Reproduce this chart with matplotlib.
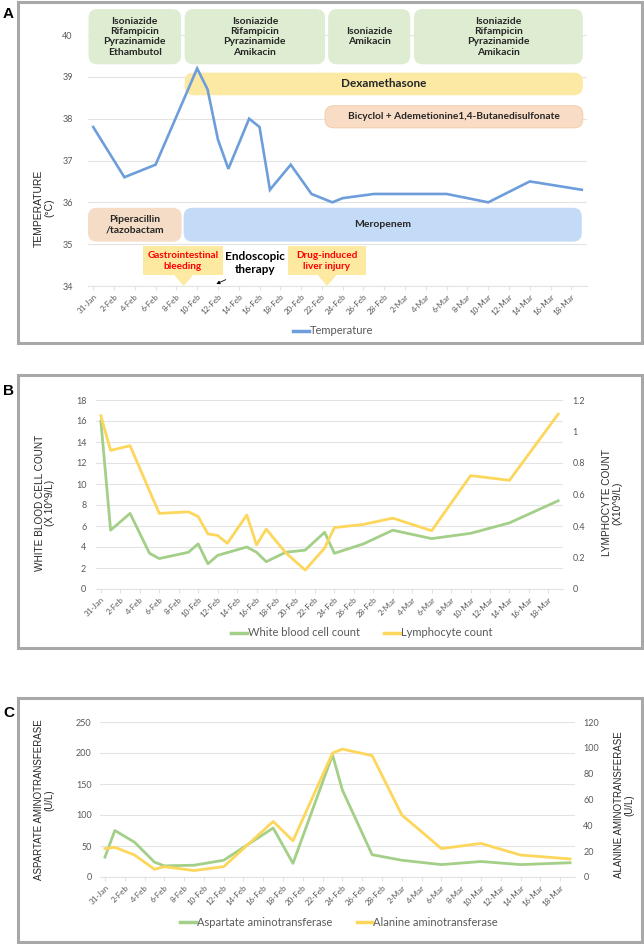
import matplotlib
matplotlib.use("Agg")
import matplotlib.pyplot as plt
import numpy as np
import pandas as pd
from matplotlib.patches import FancyBboxPatch, Rectangle, Polygon
from matplotlib.lines import Line2D

plt.rcParams["font.family"] = ["Lato", "DejaVu Sans"]

YEAR = 2023
START = "31-Jan"

# Panel A: body temperature
temp_dates = ["31-Jan", "3-Feb", "6-Feb", "10-Feb", "11-Feb", "12-Feb", "13-Feb",
              "15-Feb", "16-Feb", "17-Feb", "19-Feb", "21-Feb", "23-Feb", "24-Feb",
              "27-Feb", "6-Mar", "10-Mar", "14-Mar", "19-Mar"]
temperature = [37.8, 36.6, 36.9, 39.2, 38.7, 37.5, 36.8, 38.0, 37.8, 36.3, 36.9,
               36.2, 36.0, 36.1, 36.2, 36.2, 36.0, 36.5, 36.3]

# Panel B: white blood cells / lymphocytes
wbc_dates = ["31-Jan", "1-Feb", "3-Feb", "5-Feb", "6-Feb", "9-Feb", "10-Feb", "11-Feb",
             "12-Feb", "15-Feb", "16-Feb", "17-Feb", "19-Feb", "21-Feb", "23-Feb",
             "24-Feb", "27-Feb", "2-Mar", "6-Mar", "10-Mar", "14-Mar", "19-Mar"]
wbc = [16.0, 5.6, 7.2, 3.4, 2.9, 3.5, 4.3, 2.4, 3.2, 4.0, 3.5, 2.6, 3.5, 3.7, 5.4,
       3.4, 4.3, 5.6, 4.8, 5.3, 6.3, 8.4]
lym_dates = ["31-Jan", "1-Feb", "3-Feb", "6-Feb", "9-Feb", "10-Feb", "11-Feb", "12-Feb",
             "13-Feb", "15-Feb", "16-Feb", "17-Feb", "19-Feb", "21-Feb", "23-Feb",
             "24-Feb", "27-Feb", "2-Mar", "6-Mar", "10-Mar", "14-Mar", "19-Mar"]
lymph = [1.10, 0.88, 0.91, 0.48, 0.49, 0.46, 0.35, 0.34, 0.29, 0.47, 0.28, 0.38, 0.23,
         0.12, 0.26, 0.39, 0.41, 0.45, 0.37, 0.72, 0.69, 1.11]

# Panel C: liver enzymes
liver_dates = ["31-Jan", "1-Feb", "3-Feb", "5-Feb", "6-Feb", "9-Feb", "12-Feb", "17-Feb",
               "19-Feb", "23-Feb", "24-Feb", "27-Feb", "2-Mar", "6-Mar", "10-Mar",
               "14-Mar", "19-Mar"]
ast = [32, 75, 56, 24, 18, 19, 27, 79, 22, 197, 140, 36, 27, 20, 25, 20, 23]
alt = [22, 23, 17, 6, 8, 5, 8, 43, 28, 96, 99, 94, 48, 22, 26, 17, 14]

# Anti-TB regimens shown as boxes across the top of panel A
tb_regimens = ["Isoniazide\nRifampicin\nPyrazinamide\nEthambutol",
               "Isoniazide\nRifampicin\nPyrazinamide\nAmikacin",
               "Isoniazide\nAmikacin",
               "Isoniazide\nRifampicin\nPyrazinamide\nAmikacin"]

BLUE = "#6d9edb"
GREEN = "#a4cf88"
YELLOW = "#fdd65c"
TICK_C = "#595959"
GRID_C = "#e3e3e3"
FRAME_C = "#a8a8a8"
TITLE_FONT = ["Liberation Sans", "DejaVu Sans"]

W, H = 644, 944
base = pd.to_datetime(f"{START}-{YEAR}", format="%d-%b-%Y")


def to_day(labels):
    return np.array([(pd.to_datetime(f"{s}-{YEAR}", format="%d-%b-%Y") - base).days
                     for s in labels], dtype=float)


tick_days = np.arange(0, 47, 2)
tick_labels = [f"{d.day}-{d.strftime('%b')}" for d in base + pd.to_timedelta(tick_days, unit="D")]


def px_axes(fig, x0, x1, ytop, ybot):
    return fig.add_axes([x0 / W, 1 - ybot / H, (x1 - x0) / W, (ybot - ytop) / H])


def style(ax, ypad):
    ax.set_xlim(-0.5, 47.5)
    ax.set_xticks(tick_days)
    ax.set_xticklabels(tick_labels, rotation=45, ha="right", rotation_mode="anchor",
                       fontsize=5.8, color=TICK_C)
    for s in ["top", "right", "left"]:
        ax.spines[s].set_visible(False)
    ax.spines["bottom"].set_color(GRID_C)
    ax.spines["bottom"].set_linewidth(0.8)
    ax.tick_params(axis="x", length=3, color=GRID_C, pad=2)
    ax.tick_params(axis="y", length=0, labelsize=6.5, labelcolor=TICK_C, pad=ypad)
    ax.yaxis.grid(True, color=GRID_C, lw=0.8)
    ax.set_axisbelow(True)


def frame(fig, x0, y0, x1, y1):
    fig.add_artist(Rectangle((x0 / W, 1 - y1 / H), (x1 - x0) / W, (y1 - y0) / H,
                             transform=fig.transFigure, fill=False, ec=FRAME_C, lw=2.2))


def ytitle(fig, x, y, text, size):
    fig.text(x / W, 1 - y / H, text, rotation=90, ha="center", va="center",
             multialignment="center", fontsize=size, color="#262626",
             family=TITLE_FONT, linespacing=1.1)


def panel_label(fig, y, text):
    fig.text(3 / W, 1 - y / H, text, fontsize=11, fontweight="bold",
             family=TITLE_FONT, va="center")


def legend(fig, ax, handles, x, y):
    ax.legend(handles=handles, loc="center", bbox_to_anchor=(x / W, 1 - y / H),
              bbox_transform=fig.transFigure, frameon=False, ncol=len(handles),
              fontsize=8, labelcolor=TICK_C, handlelength=1.4, handletextpad=0.1,
              columnspacing=2.2)


fig = plt.figure(figsize=(W / 100, H / 100), dpi=100)

# ---------------- Panel A ----------------
axA = px_axes(fig, 88, 587, 35, 286)
style(axA, 11)
axA.set_ylim(34, 40)
axA.set_yticks(range(34, 41))
axA.plot(to_day(temp_dates), temperature, color=BLUE, lw=1.9, zorder=10,
         solid_joinstyle="miter")

# rounding aspect so corners look round in pixels
asp = (499 / 48.0) / (251 / 6.0)


def rbox(x0, x1, y0, y1, color, text, size, r=0.85, ec="none"):
    p = FancyBboxPatch((x0, y0), x1 - x0, y1 - y0,
                       boxstyle=f"round,pad=0,rounding_size={r}", mutation_aspect=asp,
                       fc=color, ec=ec, lw=0.6, clip_on=False, zorder=5)
    axA.add_patch(p)
    axA.text((x0 + x1) / 2, (y0 + y1) / 2, text, ha="center", va="center",
             fontsize=size, fontweight="bold", color="#262626", linespacing=1.2,
             clip_on=False, zorder=6)


spans = [(-0.45, 8.45), (8.8, 22.3), (22.6, 30.5), (30.85, 47.1)]
for txt, (x0, x1) in zip(tb_regimens, spans):
    rbox(x0, x1, 39.3, 40.62, "#deedd2", txt, 7.5)

rbox(8.8, 47.1, 38.56, 39.1, "#fce9a4", "Dexamethasone", 8.5)
rbox(22.3, 47.1, 37.78, 38.31, "#f9dcc6", "Bicyclol + Ademetionine1,4-Butanedisulfonate", 7.3,
     ec="#f3c9a5")
rbox(-0.5, 8.5, 35.06, 35.87, "#f4dcc6", "Piperacillin\n/tazobactam", 7.5)
rbox(8.7, 47.0, 35.06, 35.87, "#c4dbf7", "Meropenem", 7.5)


def callout(x0, x1, xa, text):
    axA.add_patch(Rectangle((x0, 34.26), x1 - x0, 0.69, fc="#fde9a0", ec="none",
                            clip_on=False, zorder=5))
    axA.add_patch(Polygon([[xa - 0.9, 34.26], [xa + 0.9, 34.26], [xa, 34.0]],
                          closed=True, fc="#fde9a0", ec="none", clip_on=False, zorder=5))
    axA.text((x0 + x1) / 2, 34.6, text, ha="center", va="center", fontsize=7.2,
             fontweight="bold", color="#ff0000", linespacing=1.3, zorder=6)


callout(4.75, 12.5, 8.7, "Gastrointestinal\nbleeding")
callout(18.7, 26.2, 22.5, "Drug-induced\nliver injury")
axA.text(15.6, 34.55, "Endoscopic\ntherapy", ha="center", va="center", fontsize=8.5,
         fontweight="bold", color="black", linespacing=1.25, zorder=6)
axA.annotate("", xy=(11.6, 34.02), xytext=(13.0, 34.18),
             arrowprops=dict(arrowstyle="-|>", color="black", lw=0.6, mutation_scale=5),
             zorder=6)

frame(fig, 18, 2, 642, 343)
panel_label(fig, 14, "A")
ytitle(fig, 44, 208, "TEMPERATURE\n(°C)", 7.5)
legend(fig, axA, [Line2D([], [], color=BLUE, lw=2.5, label="Temperature")], 333, 331)

# ---------------- Panel B ----------------
axB = px_axes(fig, 96, 563, 400, 589)
style(axB, 7)
axB.set_ylim(0, 18)
axB.set_yticks(range(0, 19, 2))
axB2 = axB.twinx()
axB2.set_ylim(0, 1.2)
axB2.set_yticks([0, 0.2, 0.4, 0.6, 0.8, 1.0, 1.2])
axB2.set_yticklabels(["0", "0.2", "0.4", "0.6", "0.8", "1", "1.2"])
for s in axB2.spines.values():
    s.set_visible(False)
axB2.tick_params(axis="y", length=0, labelsize=6.5, labelcolor=TICK_C, pad=7)
axB.plot(to_day(wbc_dates), wbc, color=GREEN, lw=2.0, zorder=3)
axB2.plot(to_day(lym_dates), lymph, color=YELLOW, lw=2.0, zorder=4)

frame(fig, 18, 375, 642, 648)
panel_label(fig, 391, "B")
ytitle(fig, 45, 503, "WHITE BLOOD CELL COUNT\n(X 10^9/L)", 7.2)
ytitle(fig, 612, 503, "LYMPHOCYTE COUNT\n(X10^9/L)", 7.2)
legend(fig, axB2, [Line2D([], [], color=GREEN, lw=2.5, label="White blood cell count"),
                   Line2D([], [], color=YELLOW, lw=2.5, label="Lymphocyte count")], 362, 633)

# ---------------- Panel C ----------------
axC = px_axes(fig, 100, 575, 722, 877)
style(axC, 6)
axC.set_ylim(0, 250)
axC.set_yticks(range(0, 251, 50))
axC2 = axC.twinx()
axC2.set_ylim(0, 120)
axC2.set_yticks(range(0, 121, 20))
for s in axC2.spines.values():
    s.set_visible(False)
axC2.tick_params(axis="y", length=0, labelsize=6.5, labelcolor=TICK_C, pad=6)
axC.plot(to_day(liver_dates), ast, color=GREEN, lw=2.0, zorder=3)
axC2.plot(to_day(liver_dates), alt, color=YELLOW, lw=2.0, zorder=4)

frame(fig, 18, 698, 642, 942)
panel_label(fig, 713, "C")
ytitle(fig, 44, 800, "ASPARTATE AMINOTRANSFERASE\n(U/L)", 7.0)
ytitle(fig, 624, 805, "ALANINE AMINOTRANSFERASE\n(U/L)", 7.0)
legend(fig, axC2, [Line2D([], [], color=GREEN, lw=2.5, label="Aspartate aminotransferase"),
                   Line2D([], [], color=YELLOW, lw=2.5, label="Alanine aminotransferase")],
       339, 922)

fig.savefig("out.png", dpi=100)
